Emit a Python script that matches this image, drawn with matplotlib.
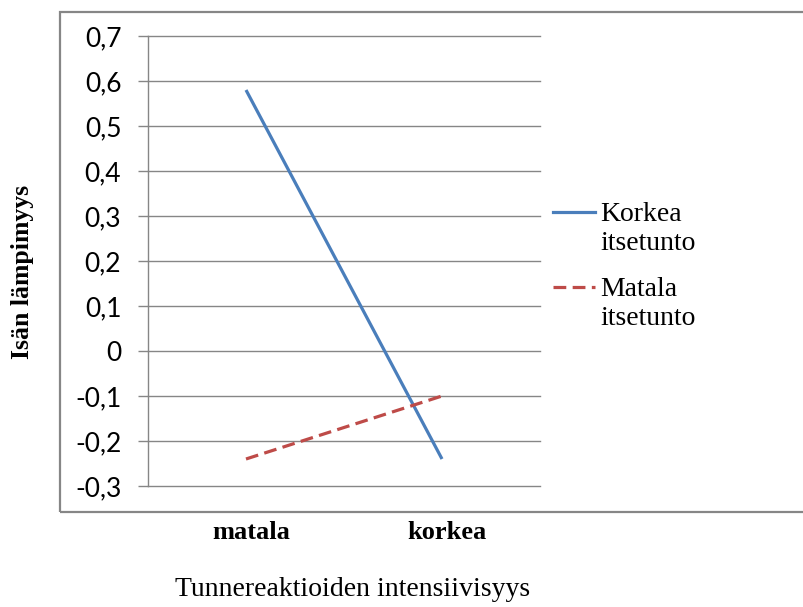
import matplotlib

matplotlib.use("Agg")

import matplotlib.pyplot as plt
import matplotlib.transforms as mtransforms
from matplotlib.lines import Line2D
from matplotlib.patches import Rectangle

CATEGORIES = ["matala", "korkea"]
KORKEA_ITSETUNTO = [0.58, -0.24]
MATALA_ITSETUNTO = [-0.24, -0.10]
SERIES_LABELS = ["Korkea\nitsetunto", "Matala\nitsetunto"]
Y_TICKS = [-0.3, -0.2, -0.1, 0.0, 0.1, 0.2, 0.3, 0.4, 0.5, 0.6, 0.7]

BLUE = "#4a7ebb"
RED = "#be4b48"
GRAY = "#868686"
SERIF = "Liberation Serif"
SANS = "Lato"
DASH = (0, (4, 2))


def fmt_tick(v: float) -> str:
    if abs(v) < 1e-9:
        return "0"
    return f"{v:.1f}".replace(".", ",")


def main() -> None:
    fig = plt.figure(figsize=(8.04, 6.07), dpi=100)
    W, H = 804, 607

    # outer chart frame (runs off the right edge)
    fig.add_artist(Rectangle((60 / W, 1 - 512 / H), 800 / W, 500 / H,
                             transform=fig.transFigure, fill=False,
                             edgecolor=GRAY, linewidth=1.6))

    ax = fig.add_axes([148 / W, 1 - 486 / H, 392 / W, 450 / H])

    x = [0, 1]
    ax.plot(x, KORKEA_ITSETUNTO, color=BLUE, linewidth=2.3,
            solid_capstyle="butt")
    ax.plot(x, MATALA_ITSETUNTO, color=RED, linewidth=2.3,
            linestyle=DASH, dash_capstyle="butt")

    ax.set_xlim(-0.5, 1.5)
    ax.set_ylim(-0.3, 0.7)
    ax.set_yticks(Y_TICKS)
    ax.set_yticklabels([fmt_tick(v) for v in Y_TICKS],
                       fontfamily=SANS, fontsize=19)
    ax.set_xticks(x)
    ax.set_xticklabels(CATEGORIES, fontfamily=SERIF, fontsize=19,
                       fontweight="bold")
    ax.tick_params(axis="y", length=7.2, width=1.0, color=GRAY, pad=12)
    ax.tick_params(axis="x", length=0, pad=25)
    nudge = mtransforms.ScaledTranslation(5 / 100, 0, fig.dpi_scale_trans)
    for lbl in ax.get_xticklabels():
        lbl.set_transform(lbl.get_transform() + nudge)

    ax.grid(axis="y", color=GRAY, linewidth=1.0)
    for gl in ax.get_ygridlines():
        gl.set_clip_on(False)
    ax.set_axisbelow(True)
    for side in ["top", "right", "bottom"]:
        ax.spines[side].set_visible(False)
    ax.spines["left"].set_color(GRAY)
    ax.spines["left"].set_linewidth(1.0)

    fig.text(353 / W, 1 - 590 / H, "Tunnereaktioiden intensiivisyys",
             ha="center", va="center", fontfamily=SERIF, fontsize=20)
    fig.text(23 / W, 1 - 272 / H, "Isän lämpimyys", rotation=90,
             ha="center", va="center", fontfamily=SERIF, fontsize=18.5,
             fontweight="bold")

    # legend drawn by hand so the sample line sits on the first text line
    legend_y = [212, 287]
    styles = [dict(color=BLUE, linestyle="-"),
              dict(color=RED, linestyle=DASH)]
    for y, label, st in zip(legend_y, SERIES_LABELS, styles):
        fig.add_artist(Line2D([553 / W, 595 / W], [1 - y / H, 1 - y / H],
                              transform=fig.transFigure, linewidth=2.3, **st))
        fig.text(600 / W, 1 - (y - 10) / H, label, ha="left", va="top",
                 fontfamily=SERIF, fontsize=20, linespacing=1.2)

    fig.savefig("out.png", dpi=100)
    plt.close(fig)


if __name__ == "__main__":
    main()
